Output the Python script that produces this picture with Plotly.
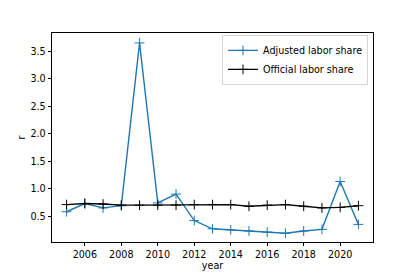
import plotly.graph_objects as go

years = list(range(2005, 2022))
adjusted = [0.58, 0.73, 0.65, 0.69, 3.65, 0.74, 0.90, 0.42, 0.27, 0.25, 0.23, 0.21, 0.19, 0.23, 0.26, 1.13, 0.35]
official = [0.71, 0.73, 0.72, 0.70, 0.70, 0.70, 0.70, 0.71, 0.71, 0.71, 0.68, 0.70, 0.71, 0.68, 0.65, 0.66, 0.69]
x_ticks = [2006, 2008, 2010, 2012, 2014, 2016, 2018, 2020]
y_ticks = [0.5, 1.0, 1.5, 2.0, 2.5, 3.0, 3.5]

FS = 9.6
fig = go.Figure()
fig.add_trace(go.Scatter(
    x=years, y=adjusted, mode="lines+markers", name="Adjusted labor share",
    line=dict(color="#1f77b4", width=1.4),
    marker=dict(symbol="cross-thin-open", size=7, line=dict(color="#1f77b4", width=1)),
))
fig.add_trace(go.Scatter(
    x=years, y=official, mode="lines+markers", name="Official labor share",
    line=dict(color="black", width=1.4),
    marker=dict(symbol="cross-thin-open", size=7, line=dict(color="black", width=1)),
))

axis_common = dict(
    showgrid=False, zeroline=False, showline=True, linecolor="black", linewidth=0.8,
    mirror=True, ticks="outside", ticklen=3.5, tickwidth=0.8, tickcolor="black",
    tickfont=dict(family="DejaVu Sans", size=FS, color="black"), automargin=False,
)
fig.update_xaxes(range=[2004.2, 2021.8], tickvals=x_ticks, ticktext=[str(v) for v in x_ticks],
                 title=dict(text="year", font=dict(family="DejaVu Sans", size=FS, color="black"), standoff=3),
                 **axis_common)
fig.update_yaxes(range=[0.03, 3.83], tickvals=y_ticks, ticktext=[f"{v:.1f}" for v in y_ticks],
                 title=dict(text="r", font=dict(family="DejaVu Sans", size=FS, color="black"), standoff=3),
                 **axis_common)

fig.update_layout(
    width=415, height=277,
    margin=dict(l=52, r=42, t=33, b=35),
    paper_bgcolor="white", plot_bgcolor="white",
    showlegend=True,
    legend=dict(
        x=0.985, y=0.99, xanchor="right", yanchor="top",
        bgcolor="rgba(255,255,255,0.8)", bordercolor="#cccccc", borderwidth=0.8,
        font=dict(family="DejaVu Sans", size=FS, color="black"),
        tracegroupgap=0, itemwidth=30,
    ),
)

fig.write_html("out.html", config={"displayModeBar": False},
               post_script="document.body.style.margin='0';document.body.style.overflow='hidden';")
